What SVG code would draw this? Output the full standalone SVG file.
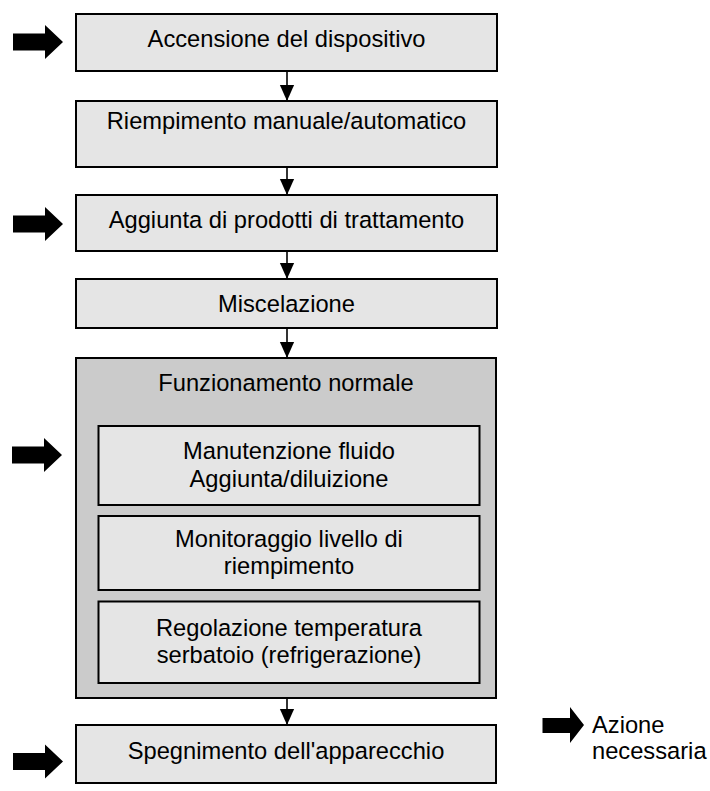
<svg xmlns="http://www.w3.org/2000/svg" width="710" height="791" viewBox="0 0 710 791">
<style>
.box{fill:#e5e5e5;stroke:#000;stroke-width:2}
.outer{fill:#cbcbcb;stroke:#000;stroke-width:2}
.t{font-family:"Liberation Sans",Arial,sans-serif;font-size:23.7px;fill:#000;text-anchor:middle}
.l{font-family:"Liberation Sans",Arial,sans-serif;font-size:23.7px;fill:#000}
.conn{stroke:#000;stroke-width:1.6;fill:none;marker-end:url(#ah)}
.big{fill:#000}
</style>
<defs>
<marker id="ah" markerUnits="userSpaceOnUse" markerWidth="16" markerHeight="18" refX="18" refY="8" orient="auto" viewBox="0 0 18 16">
<path d="M0,0 L18,8 L0,16 Z" fill="#000"/>
</marker>
<path id="bigarrow" d="M0,-8.5 L32,-8.5 L32,-17 L50,0 L32,17 L32,8.5 L0,8.5 Z"/>
</defs>
<rect width="710" height="791" fill="#fff"/>

<g id="connectors">
<line class="conn" x1="287" y1="71" x2="287" y2="101"/>
<line class="conn" x1="287" y1="167" x2="287" y2="195"/>
<line class="conn" x1="287" y1="251" x2="287" y2="279"/>
<line class="conn" x1="287" y1="328" x2="287" y2="358"/>
<line class="conn" x1="287" y1="698" x2="287" y2="725"/>
</g>

<g id="n1">
<rect class="box" x="76" y="14" width="421" height="57"/>
<text class="t" x="286.5" y="47">Accensione del dispositivo</text>
</g>
<g id="n2">
<rect class="box" x="76" y="101" width="421" height="66"/>
<text class="t" x="286.5" y="128.5">Riempimento manuale/automatico</text>
</g>
<g id="n3">
<rect class="box" x="76" y="195" width="421" height="56"/>
<text class="t" x="286.5" y="227.5">Aggiunta di prodotti di trattamento</text>
</g>
<g id="n4">
<rect class="box" x="76" y="279" width="421" height="49"/>
<text class="t" x="286.5" y="312">Miscelazione</text>
</g>
<g id="n5">
<rect class="outer" x="76" y="358" width="420" height="340"/>
<text class="t" x="286" y="390.7">Funzionamento normale</text>
</g>
<g id="n5a">
<rect class="box" x="98.5" y="426" width="381" height="79"/>
<text class="t" x="289" y="459.3">Manutenzione fluido</text>
<text class="t" x="289" y="486.7">Aggiunta/diluizione</text>
</g>
<g id="n5b">
<rect class="box" x="98.5" y="516" width="381" height="74"/>
<text class="t" x="289" y="546.5">Monitoraggio livello di</text>
<text class="t" x="289" y="573.5">riempimento</text>
</g>
<g id="n5c">
<rect class="box" x="98.5" y="601.5" width="381" height="81.5"/>
<text class="t" x="289" y="635.7">Regolazione temperatura</text>
<text class="t" x="289" y="662.7">serbatoio (refrigerazione)</text>
</g>
<g id="n6">
<rect class="box" x="76" y="725" width="420" height="58"/>
<text class="t" x="286" y="758.5">Spegnimento dell'apparecchio</text>
</g>

<g id="action-arrows">
<use href="#bigarrow" class="big" x="13" y="42"/>
<use href="#bigarrow" class="big" x="13" y="224"/>
<use href="#bigarrow" class="big" x="12" y="455"/>
<use href="#bigarrow" class="big" x="13" y="761.5"/>
</g>

<g id="legend">
<path class="big" d="M542.5,718 L570,718 L570,707 L584,725 L570,743 L570,733 L542.5,733 Z"/>
<text class="l" x="592" y="733">Azione</text>
<text class="l" x="592" y="758.5">necessaria</text>
</g>
</svg>
